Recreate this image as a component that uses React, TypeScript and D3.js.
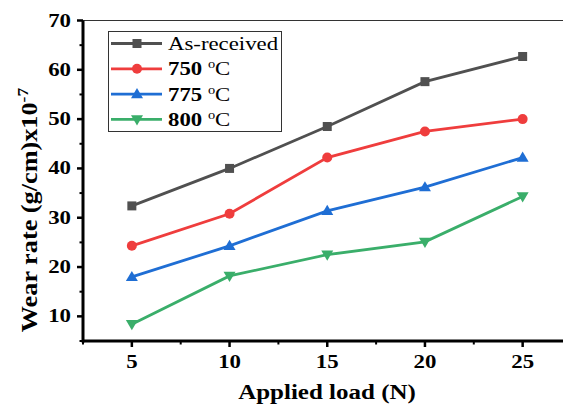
import React from 'react';
import * as d3 from 'd3';

const loads = [5, 10, 15, 20, 25];
const asReceived = [32.4, 40.0, 48.5, 57.6, 62.7];
const t750 = [24.3, 30.8, 42.2, 47.5, 50.0];
const t775 = [18.0, 24.3, 31.4, 36.2, 42.2];
const t800 = [8.4, 18.2, 22.5, 25.1, 34.3];
const seriesNames = ['As-received', '750', '775', '800'];
const xTicks = [5, 10, 15, 20, 25];
const yTicks = [10, 20, 30, 40, 50, 60, 70];

const W = 563;
const H = 405;
const left = 83;
const right = 571.5;
const top = 20.5;
const bottom = 341;

const font = 'Liberation Serif, Times New Roman, Times, serif';

const series = [
  { name: seriesNames[0], values: asReceived, color: '#505050', marker: 'square', bold: false },
  { name: seriesNames[1], values: t750, color: '#ef3d3d', marker: 'circle', bold: true },
  { name: seriesNames[2], values: t775, color: '#1f6ed4', marker: 'up', bold: true },
  { name: seriesNames[3], values: t800, color: '#3aae6a', marker: 'down', bold: true },
];

const Marker = ({ type, x, y, color }: { type: string; x: number; y: number; color: string }) => {
  if (type === 'square') return <rect x={x - 4.5} y={y - 4.5} width={9} height={9} fill={color} />;
  if (type === 'circle') return <circle cx={x} cy={y} r={5} fill={color} />;
  const s = 6;
  if (type === 'up')
    return <path d={`M${x},${y - s}L${x + s},${y + s * 0.7}L${x - s},${y + s * 0.7}Z`} fill={color} />;
  return <path d={`M${x},${y + s}L${x + s},${y - s * 0.7}L${x - s},${y - s * 0.7}Z`} fill={color} />;
};

const App = () => {
  const x = d3.scaleLinear().domain([2.5, 27.5]).range([left, right]);
  const y = d3.scaleLinear().domain([5, 70]).range([bottom, top]);
  const line = d3
    .line<number>()
    .x((_, i) => x(loads[i]))
    .y((d) => y(d));

  const xMinor = d3.range(2.5, 27.6, 2.5).filter((v) => !xTicks.includes(v));
  const yMinor = d3.range(5, 70, 5).filter((v) => !yTicks.includes(v));

  return (
    <svg width={W} height={H} style={{ position: 'absolute', left: 0, top: 0, background: '#fff', fontFamily: font }}>
      <line x1={left} x2={W} y1={top} y2={top} stroke="#333" strokeWidth={1} />

      {/* x axis */}
      {xTicks.map((t) => (
        <g key={'x' + t}>
          <line x1={x(t)} x2={x(t)} y1={bottom} y2={bottom + 6} stroke="#000" strokeWidth={2.5} />
          <text transform={`translate(${x(t)},${bottom + 27}) scale(1.27,1)`} textAnchor="middle" fontWeight="bold" fontSize={18}>
            {t}
          </text>
        </g>
      ))}
      {xMinor.map((t) => (
        <line key={'xm' + t} x1={x(t)} x2={x(t)} y1={bottom} y2={bottom + 3.5} stroke="#000" strokeWidth={2} />
      ))}

      {/* y axis */}
      {yTicks.map((t) => (
        <g key={'y' + t}>
          <line x1={left - 6} x2={left} y1={y(t)} y2={y(t)} stroke="#000" strokeWidth={2.5} />
          <text transform={`translate(${left - 12},${y(t) + 6}) scale(1.27,1)`} textAnchor="end" fontWeight="bold" fontSize={18}>
            {t}
          </text>
        </g>
      ))}
      {yMinor.map((t) => (
        <line key={'ym' + t} x1={left - 3.5} x2={left} y1={y(t)} y2={y(t)} stroke="#000" strokeWidth={2} />
      ))}

      <line x1={left} x2={W} y1={bottom} y2={bottom} stroke="#000" strokeWidth={3} />
      <line x1={left} x2={left} y1={top} y2={bottom + 1.5} stroke="#000" strokeWidth={3} />

      {/* series */}
      {series.map((s) => (
        <g key={s.name}>
          <path d={line(s.values) || ''} fill="none" stroke={s.color} strokeWidth={2.8} />
          {s.values.map((v, i) => (
            <Marker key={i} type={s.marker} x={x(loads[i])} y={y(v)} color={s.color} />
          ))}
        </g>
      ))}

      {/* legend */}
      <rect x={108.5} y={31.5} width={173} height={100} fill="#fff" stroke="#333" strokeWidth={1} />
      {series.map((s, i) => {
        const ly = 43.5 + i * 25.3;
        return (
          <g key={'lg' + s.name}>
            <line x1={111} x2={162} y1={ly} y2={ly} stroke={s.color} strokeWidth={2.8} />
            <Marker type={s.marker} x={137} y={ly} color={s.color} />
            <text transform={`translate(168,${ly + 6.5}) scale(1.2,1)`} fontSize={19} fontWeight={s.bold ? 'bold' : 'normal'}>
              {s.bold ? (
                <>
                  {s.name}{' '}
                  <tspan fontWeight="normal" fontSize={12} dy={-7}>
                    o
                  </tspan>
                  <tspan fontWeight="normal" dy={7}>
                    C
                  </tspan>
                </>
              ) : (
                s.name
              )}
            </text>
          </g>
        );
      })}

      {/* axis titles */}
      <text transform="translate(327,399) scale(1.25,1)" textAnchor="middle" fontWeight="bold" fontSize={20}>
        Applied load (N)
      </text>
      <text
        transform="translate(37, 210) rotate(-90) scale(1.25,1.1)"
        textAnchor="middle"
        fontWeight="bold"
        fontSize={21}
      >
        Wear rate (g/cm)x10
        <tspan fontSize={14} dy={-8}>
          -7
        </tspan>
      </text>
    </svg>
  );
};

export default App;
